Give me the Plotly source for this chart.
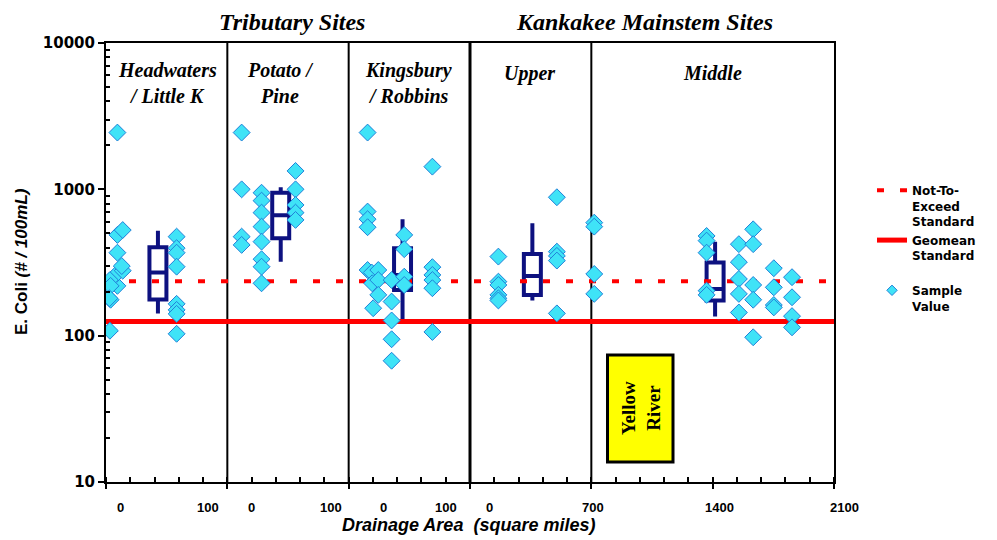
import plotly.graph_objects as go

# ── Colours ──
NAVY = "#0D1180"
CYAN = "#3FE3F7"
CYAN_EDGE = "#2080D8"
RED = "#FF0000"
YELLOW = "#FFFF00"
BLACK = "#000000"

SERIF = "Liberation Serif"
SANS = "Liberation Sans"

# ── Geometry: page pixels; the page body adds an 8px offset ──
OFF = 8
W, H = 997 - OFF, 540 - OFF
L, R, T, B = 106, 834, 43, 482  # plot area, page pixels


def px(x):
    return (x - L) / (R - L)


def py(y):
    return (B - y) / (B - T)


# ── Data ──
# x is position on the segmented drainage-area axis (one unit per minor tick)
NOT_TO_EXCEED = 235
GEOMEAN = 125
X_RANGE = [0, 30]

headwaters_x = [0.47, 0.47, 0.47, 0.47, 0.47, 0.69, 0.69, 0.65, 0.16, 0.16, 0.19, 0.19, 0.14,
                2.91, 2.91, 2.91, 2.91, 2.91, 2.91, 2.91, 2.91]
headwaters_y = [2443, 488, 369, 219, 267, 527, 278, 299, 240, 108, 219, 176, 180,
                475, 396, 369, 296, 165, 150, 141, 103]

potato_x = [5.59, 5.59, 5.59, 5.59,
            6.41, 6.41, 6.41, 6.41, 6.41, 6.41, 6.41, 6.41,
            7.81, 7.81, 7.81, 7.81, 7.81]
potato_y = [2443, 1000, 475, 417,
            948, 837, 693, 556, 439, 333, 296, 228,
            1336, 1000, 782, 693, 618]

kingsbury_x = [10.78, 10.78, 10.78, 10.78, 10.78, 11.01, 10.95, 10.97,
               11.22, 11.22, 11.22, 11.77, 11.77, 11.77, 11.77, 11.77,
               12.29, 12.29, 12.29, 12.29,
               13.45, 13.45, 13.45, 13.45, 13.45, 13.45]
kingsbury_y = [2443, 705, 625, 551, 281, 154, 270, 228,
               281, 240, 190, 240, 171, 127, 94.5, 67.4,
               488, 390, 253, 222,
               1429, 294, 260, 240, 211, 106]

upper_x = [16.17, 16.17, 16.17, 16.17, 16.17, 16.17,
           18.58, 18.58, 18.58, 18.58, 18.58,
           20.12, 20.12, 20.12, 20.12]
upper_y = [347, 234, 222, 190, 180, 174,
           883, 375, 351, 326, 142,
           592, 556, 264, 193]

middle_x = [24.75, 24.75, 24.75, 24.75, 24.75,
            26.08, 26.08, 26.08, 26.08, 26.08,
            26.67, 26.67, 26.67, 26.67, 26.67,
            27.52, 27.52, 27.52, 27.52,
            28.27, 28.27, 28.27, 28.27]
middle_y = [480, 446, 369, 203, 190,
            422, 318, 244, 193, 144,
            533, 422, 222, 176, 97.5,
            289, 214, 162, 156,
            251, 183, 136, 114]

# box summaries, one per site group
box_x = [2.14, 7.20, 12.22, 17.57, 25.10]
box_upper = [522, 1033, 625, 586, 439]
box_q3 = [402, 948, 396, 361, 316]
box_median = [270, 666, 260, 256, 208]
box_q1 = [177, 463, 205, 190, 174]
box_lower = [142, 320, 128, 174, 135]

# tick labels of the segmented x axis
xtick_pos = [0.58, 4.2, 6.0, 9.27, 11.45, 14.0, 15.8, 20.07, 25.3, 30.45]
xtick_text = ["0", "100", "0", "100", "0", "100", "0", "700", "1400", "2100"]

dividers = [5, 10, 15, 20]

all_x = headwaters_x + potato_x + kingsbury_x + upper_x + middle_x
all_y = headwaters_y + potato_y + kingsbury_y + upper_y + middle_y

fig = go.Figure()

fig.add_trace(go.Box(
    x=box_x, q1=box_q1, median=box_median, q3=box_q3,
    lowerfence=box_lower, upperfence=box_upper,
    width=0.7, whiskerwidth=0,
    line=dict(color=NAVY, width=4), fillcolor="white",
    boxpoints=False, showlegend=False, hoverinfo="skip",
))

fig.add_trace(go.Scatter(
    x=X_RANGE, y=[NOT_TO_EXCEED] * 2, mode="lines", legendgroup="std",
    name="Not-To-<br>Exceed<br>Standard",
    line=dict(color=RED, width=4, dash="7px,16px"),
))
fig.add_trace(go.Scatter(
    x=X_RANGE, y=[GEOMEAN] * 2, mode="lines", legendgroup="std",
    name="Geomean<br>Standard",
    line=dict(color=RED, width=5),
))

fig.add_trace(go.Scatter(
    x=all_x, y=all_y, mode="markers", showlegend=False,
    marker=dict(symbol="diamond", size=13, color=CYAN,
                line=dict(color=CYAN_EDGE, width=1)),
))
# legend-only entry with the small diamond
fig.add_trace(go.Scatter(
    x=[None], y=[None], mode="markers", name="Sample<br>Value", legendgroup="pts",
    marker=dict(symbol="diamond", size=8, color=CYAN,
                line=dict(color=CYAN_EDGE, width=1)),
))

shapes = []
for d in dividers:
    shapes.append(dict(type="line", xref="x", yref="paper", x0=d, x1=d, y0=0, y1=1,
                       line=dict(color=BLACK, width=3 if d == 15 else 2), layer="below"))
shapes.append(dict(type="rect", xref="paper", yref="paper",
                   x0=px(607.5), x1=px(673), y0=py(462), y1=py(355),
                   line=dict(color=BLACK, width=3), fillcolor=YELLOW))

title_font = dict(family=SERIF, size=24, color=BLACK, weight="bold", style="italic")
panel_font = dict(family=SERIF, size=20, color=BLACK, weight="bold", style="italic")

annotations = [
    dict(text="Tributary Sites", x=px(292), y=py(22), font=title_font),
    dict(text="Kankakee Mainstem Sites", x=px(644), y=py(22), font=title_font),
    dict(text="Headwaters", x=px(167), y=py(70), font=panel_font),
    dict(text="/ Little K", x=px(167), y=py(96), font=panel_font),
    dict(text="Potato /", x=px(280), y=py(70), font=panel_font),
    dict(text="Pine", x=px(279), y=py(96), font=panel_font),
    dict(text="Kingsbury", x=px(408), y=py(70), font=panel_font),
    dict(text="/ Robbins", x=px(408), y=py(96), font=panel_font),
    dict(text="Upper", x=px(529), y=py(73), font=panel_font),
    dict(text="Middle", x=px(712), y=py(73), font=panel_font),
    dict(text="<b>Yellow<br>River</b>", x=px(641), y=py(408), textangle=-90,
         font=dict(family=SERIF, size=19, color=BLACK)),
    dict(text="<b><i>Drainage Area  (square miles)</i></b>", x=px(468), y=py(525),
         font=dict(family=SANS, size=18, color=BLACK)),
    dict(text="<b>E. Coli <i>(# / 100mL)</i></b>", x=px(22), y=py(262), textangle=-90,
         font=dict(family=SANS, size=17, color=BLACK)),
]
for pos, txt in zip(xtick_pos, xtick_text):
    annotations.append(dict(text=txt, x=pos / X_RANGE[1], y=py(507),
                            font=dict(family=SANS, size=13, color=BLACK, weight="bold")))
for a in annotations:
    a["xref"] = "paper"
    a["yref"] = "paper"
    a["showarrow"] = False
    a["xanchor"] = "center"
    a["yanchor"] = "middle"

minor_y = [m * 10 ** e for e in (1, 2, 3) for m in range(2, 10)]

fig.update_layout(
    width=W, height=H,
    margin=dict(l=L - OFF, r=997 - R, t=T - OFF, b=540 - B),
    paper_bgcolor="white", plot_bgcolor="white",
    xaxis=dict(range=X_RANGE, showgrid=False, zeroline=False,
               showline=True, linecolor=BLACK, linewidth=2, mirror=True,
               tick0=0, dtick=5, ticks="outside", ticklen=5, tickwidth=2, tickcolor=BLACK,
               showticklabels=False,
               minor=dict(dtick=1, ticks="inside", ticklen=5, tickwidth=1.5, tickcolor=BLACK)),
    yaxis=dict(type="log", range=[1, 4], showgrid=False, zeroline=False,
               showline=True, linecolor=BLACK, linewidth=2, mirror=True,
               tickvals=[10, 100, 1000, 10000], ticktext=["10", "100", "1000", "10000"],
               ticks="outside", ticklen=6, tickwidth=2, tickcolor=BLACK,
               tickfont=dict(family="DejaVu Sans", size=15, color=BLACK, weight="bold"),
               minor=dict(tickmode="array", tickvals=minor_y, ticks="inside", ticklen=4,
                          tickwidth=1.5, tickcolor=BLACK, showgrid=False)),
    legend=dict(x=px(872), y=py(176), xanchor="left", yanchor="top", valign="top",
                font=dict(family="DejaVu Sans", size=12, color=BLACK, weight="bold"),
                bgcolor="rgba(0,0,0,0)", tracegroupgap=16),
    shapes=shapes,
    annotations=annotations,
    showlegend=True,
)

fig.write_html("out.html")
